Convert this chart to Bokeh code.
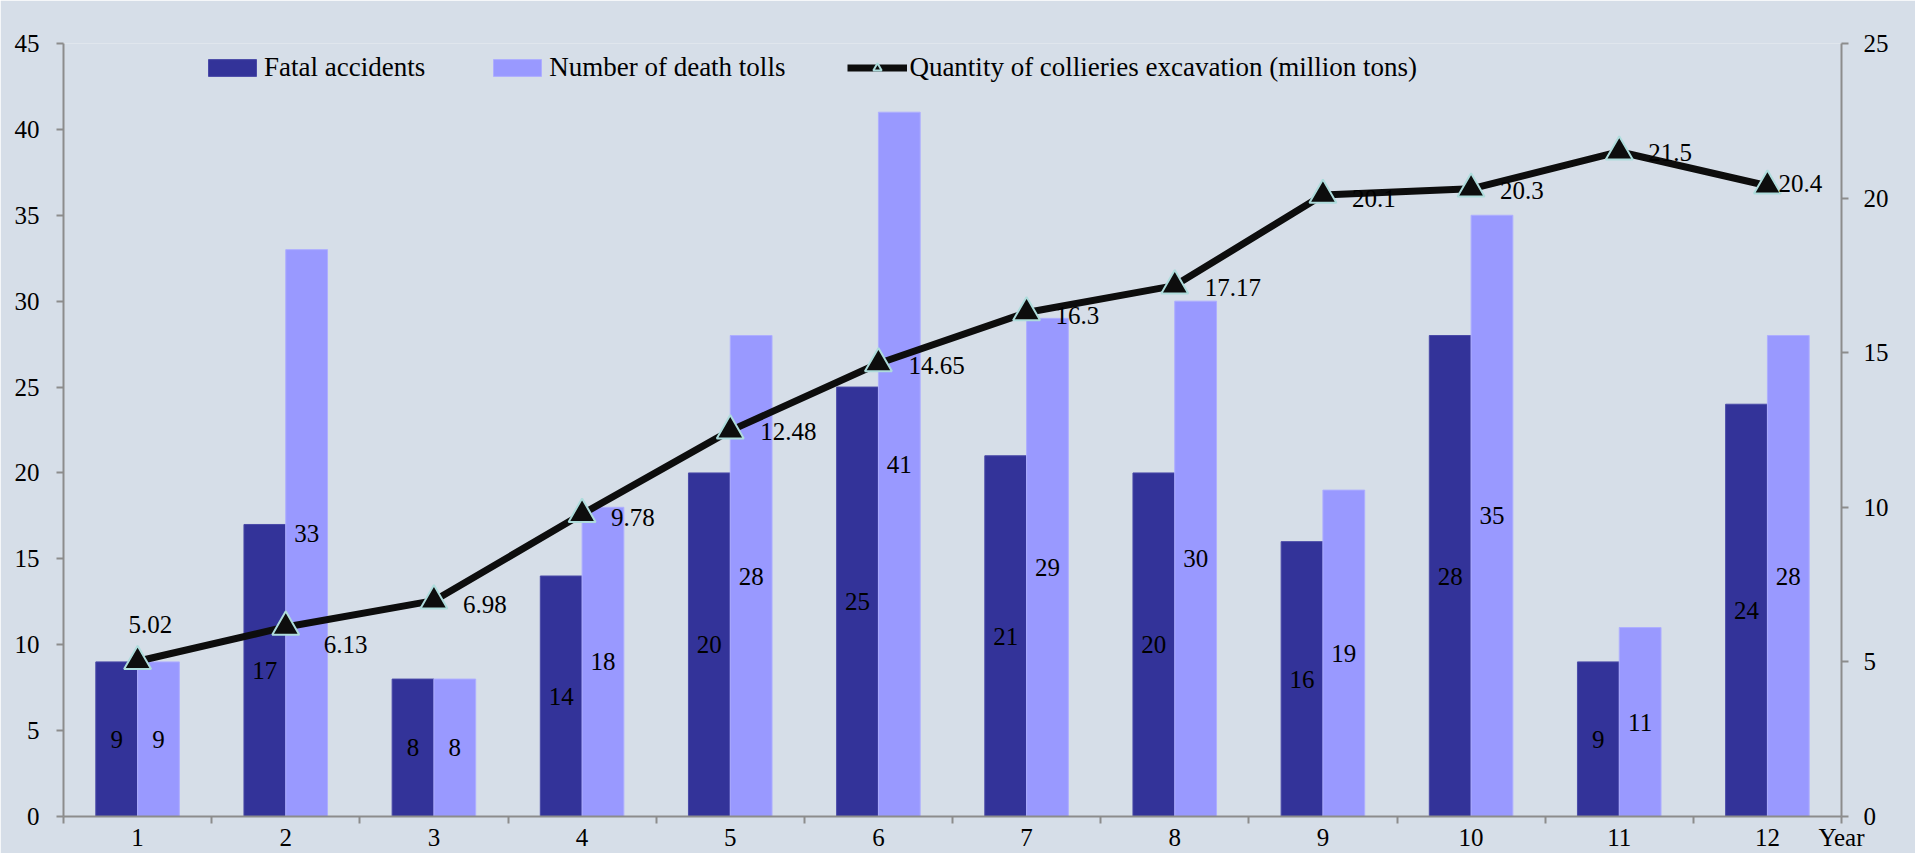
from bokeh.plotting import figure
from bokeh.models import Range1d, LinearAxis, FixedTicker, Legend, LegendItem, ColumnDataSource
from bokeh.core.properties import value
from bokeh.embed import file_html
from bokeh.resources import INLINE

# ---- data ----
years = ["1", "2", "3", "4", "5", "6", "7", "8", "9", "10", "11", "12"]
fatal_accidents = [9, 17, 8, 14, 20, 25, 21, 20, 16, 28, 9, 24]
death_tolls = [9, 33, 8, 18, 28, 41, 29, 30, 19, 35, 11, 28]
excavation = [5.02, 6.13, 6.98, 9.78, 12.48, 14.65, 16.3, 17.17, 20.1, 20.3, 21.5, 20.4]
excavation_text = ["5.02", "6.13", "6.98", "9.78", "12.48", "14.65", "16.3", "17.17", "20.1", "20.3", "21.5", "20.4"]
left_ticks = [0, 5, 10, 15, 20, 25, 30, 35, 40, 45]
right_ticks = [0, 5, 10, 15, 20, 25]
x_title = "Year"

# ---- style ----
FONT = value("Liberation Serif")
BG = "#D6DEE8"
DARK = "#333399"
LIGHT = "#9999FF"
AXIS = "#8C8C8C"
label_dx = [-9, 38, 29, 29, 30, 30, 29, 30, 29, 29, 29, 11]
label_dy = [-37, 18, 4, 3, 1, 2, 3, 2, 3, 2, 1, -2]
BW = 0.282

xs = [i + 1 for i in range(len(years))]
x_end = len(years) + 0.5

p = figure(width=1915, height=853, output_backend="svg", toolbar_location=None,
           x_range=Range1d(0.5, x_end), y_range=Range1d(0, 45),
           min_border_left=63, min_border_right=74, min_border_top=43, min_border_bottom=36)
p.background_fill_color = BG
p.border_fill_color = BG
p.outline_line_color = None
p.xgrid.grid_line_color = None
p.ygrid.grid_line_color = None
p.extra_y_ranges = {"right": Range1d(0, 25)}

src = ColumnDataSource(dict(
    x=xs,
    xd=[x - BW / 2 for x in xs],
    xl=[x + BW / 2 for x in xs],
    fatal=fatal_accidents,
    deaths=death_tolls,
    fatal_mid=[v / 2 for v in fatal_accidents],
    deaths_mid=[v / 2 for v in death_tolls],
    fatal_txt=[str(v) for v in fatal_accidents],
    deaths_txt=[str(v) for v in death_tolls],
    exc=excavation,
    exc_txt=excavation_text,
    dx=label_dx,
    dy=label_dy,
))

r_dark = p.vbar(x="xd", top="fatal", width=BW, source=src, fill_color=DARK, line_color="#4a4aa8", line_width=1)
r_light = p.vbar(x="xl", top="deaths", width=BW, source=src, fill_color=LIGHT, line_color="#aeaeff", line_width=1)

p.text(x="xd", y="fatal_mid", text="fatal_txt", source=src, text_font=FONT, text_font_size="25px",
       text_align="center", text_baseline="middle", text_color="black")
p.text(x="xl", y="deaths_mid", text="deaths_txt", source=src, text_font=FONT, text_font_size="25px",
       text_align="center", text_baseline="middle", text_color="black")

r_line = p.line(x="x", y="exc", source=src, y_range_name="right", line_color="#0D0D0D", line_width=7)
r_pts = p.scatter(x="x", y="exc", source=src, y_range_name="right", marker="triangle", size=27,
                  fill_color="#0D0D0D", line_color="#AEDCDC", line_width=2)
p.text(x="x", y="exc", text="exc_txt", source=src, y_range_name="right", x_offset="dx", y_offset="dy",
       text_font=FONT, text_font_size="25px", text_align="left", text_baseline="middle", text_color="black")

# axes
xa = p.xaxis[0]
xa.ticker = FixedTicker(ticks=xs + [x_end], minor_ticks=[x - 0.5 for x in xs] + [x_end])
overrides = {x: years[i] for i, x in enumerate(xs)}
overrides[x_end] = x_title
xa.major_label_overrides = overrides
xa.major_tick_out = 0
xa.major_tick_in = 0
xa.minor_tick_out = 7
xa.minor_tick_in = 0
xa.minor_tick_line_color = AXIS
xa.minor_tick_line_width = 2
xa.axis_line_color = AXIS
xa.axis_line_width = 2
xa.major_label_standoff = 0
xa.major_label_text_font = "Liberation Serif"
xa.major_label_text_font_size = "25px"
xa.major_label_text_color = "black"

ya = p.yaxis[0]
ya.ticker = FixedTicker(ticks=left_ticks)
ya.major_tick_out = 7
ya.major_tick_in = 0
ya.minor_tick_line_color = None
ya.major_tick_line_color = AXIS
ya.major_tick_line_width = 2
ya.axis_line_color = AXIS
ya.axis_line_width = 2
ya.major_label_standoff = 17
ya.major_label_text_font = "Liberation Serif"
ya.major_label_text_font_size = "25px"
ya.major_label_text_color = "black"

ra = LinearAxis(y_range_name="right", ticker=FixedTicker(ticks=right_ticks))
ra.major_tick_out = 7
ra.major_tick_in = 0
ra.minor_tick_line_color = None
ra.major_tick_line_color = AXIS
ra.major_tick_line_width = 2
ra.axis_line_color = AXIS
ra.axis_line_width = 2
ra.major_label_standoff = 15
ra.major_label_text_font = "Liberation Serif"
ra.major_label_text_font_size = "25px"
ra.major_label_text_color = "black"
p.add_layout(ra, "right")

legend = Legend(items=[
    LegendItem(label="Fatal accidents", renderers=[r_dark]),
    LegendItem(label="Number of death tolls", renderers=[r_light]),
    LegendItem(label="Quantity of collieries excavation (million tons)", renderers=[r_line, r_pts]),
], orientation="horizontal", location=(139, 733))
legend.background_fill_alpha = 0
legend.border_line_color = None
legend.padding = 0
legend.margin = 0
legend.spacing = 62
legend.glyph_width = 60
legend.glyph_height = 21
legend.label_standoff = 2
legend.label_text_font = "Liberation Serif"
legend.label_text_font_size = "27px"
legend.label_text_color = "black"
p.add_layout(legend)

open("out.html", "w").write(file_html(p, INLINE))
